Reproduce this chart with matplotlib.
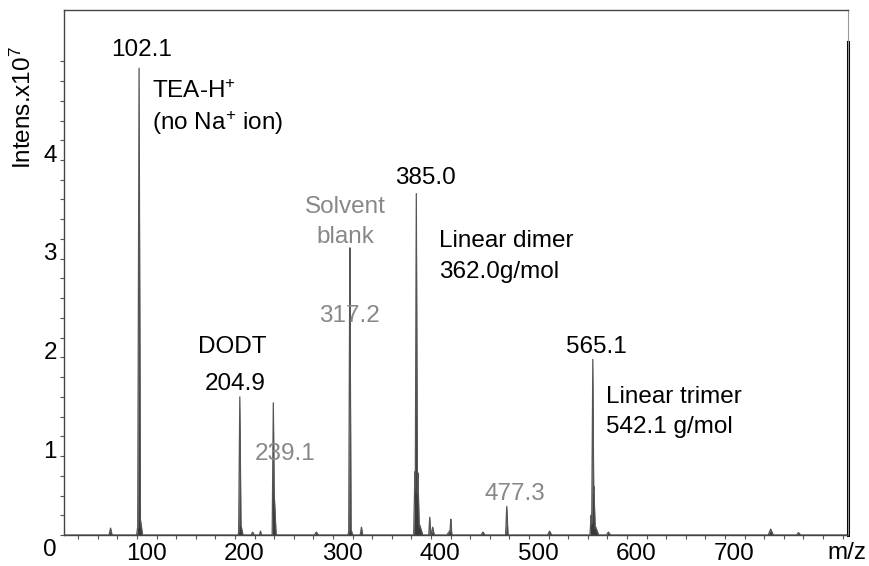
import numpy as np
import matplotlib
matplotlib.use("Agg")
import matplotlib.pyplot as plt
import matplotlib.transforms as mtransforms
from matplotlib.ticker import MultipleLocator, FixedLocator

plt.rcParams['font.family'] = ['Liberation Sans', 'DejaVu Sans']
plt.rcParams['mathtext.fontset'] = 'custom'
plt.rcParams['mathtext.rm'] = 'Liberation Sans'
plt.rcParams['mathtext.it'] = 'Liberation Sans'

# ==========================================
# Data (intensity in 1e7)
# ==========================================
peak_mz = [102.1, 102.6, 204.9, 205.6, 239.1, 239.9, 317.2, 317.6,
           385.0, 383.6, 386.6, 388.5, 398.7, 401.7, 420.2, 419.0,
           477.3, 565.1, 566.2, 563.4, 568.0,
           73.0, 218.0, 226.0, 283.0, 329.0, 453.0, 521.0, 581.0, 746.6, 775.0]
peak_height = [4.73, 0.22, 1.40, 0.12, 1.34, 0.44, 2.91, 0.08,
               3.46, 0.64, 0.63, 0.10, 0.18, 0.08, 0.16, 0.04,
               0.29, 1.78, 0.49, 0.20, 0.08,
               0.07, 0.03, 0.04, 0.03, 0.08, 0.03, 0.04, 0.03, 0.06, 0.025]
peak_halfwidth = [1.4, 3.0, 1.2, 2.5, 1.2, 2.0, 1.2, 2.5,
                  1.2, 1.3, 1.5, 3.0, 1.0, 1.5, 1.0, 3.0,
                  1.2, 1.2, 1.5, 1.2, 3.0,
                  1.5, 1.5, 1.0, 2.0, 1.2, 2.0, 2.0, 2.0, 2.5, 2.0]

# peak annotations: (text, x, y, colour, ha)
labels_black = ["102.1", "204.9", "385.0", "565.1"]
labels_black_x = [105, 200, 394, 569]
labels_black_y = [4.85, 1.47, 3.56, 1.84]

labels_gray = ["239.1", "317.2", "477.3"]
labels_gray_x = [251, 317, 486]
labels_gray_y = [0.76, 2.16, 0.35]

x_ticks = [100, 200, 300, 400, 500, 600, 700]
y_ticks = [0, 1, 2, 3, 4]

# ==========================================
# Build spectrum
# ==========================================
mz = np.arange(25.0, 826.0, 0.1)
intens = np.zeros_like(mz)
for c, h, w in zip(peak_mz, peak_height, peak_halfwidth):
    intens = np.maximum(intens, h * np.clip(1 - np.abs(mz - c) / w, 0, None))

# ==========================================
# Plot
# ==========================================
fig = plt.figure(figsize=(8.7, 5.66), dpi=100)
ax = fig.add_axes([64 / 870, 1 - 535 / 566, (848 - 64) / 870, (535 - 10) / 566])

ax.fill_between(mz, 0, intens, color='#3a3a3a', lw=0)
ax.plot(mz, intens, color='#555555', lw=0.9)

ax.set_xlim(25.5, 825.5)
ax.set_ylim(0, 5.32)

ax.xaxis.set_major_locator(FixedLocator(x_ticks))
ax.xaxis.set_minor_locator(FixedLocator(np.arange(40, 821, 20)))
ax.yaxis.set_major_locator(FixedLocator(y_ticks))
ax.yaxis.set_minor_locator(FixedLocator(np.arange(0.2, 4.81, 0.2)))
ax.set_xticklabels([str(t) for t in x_ticks])
ax.set_yticklabels([str(t) for t in y_ticks])

ax.tick_params(which='both', direction='out', length=3, width=0.8, color='#555555',
               labelsize=17.5)
ax.tick_params(axis='x', pad=3)
ax.tick_params(axis='y', pad=2)

# Bruker-style offset tick labels
dx = mtransforms.ScaledTranslation(9 / 100, 0, fig.dpi_scale_trans)
for lab in ax.get_xticklabels():
    lab.set_transform(lab.get_transform() + dx)
dy = mtransforms.ScaledTranslation(0, -13 / 100, fig.dpi_scale_trans)
for lab in ax.get_yticklabels():
    lab.set_transform(lab.get_transform() + dy)

for side in ['left', 'top', 'bottom']:
    ax.spines[side].set_color('#444444')
    ax.spines[side].set_linewidth(1.0)
ax.spines['right'].set_color('#999999')
ax.spines['right'].set_linewidth(0.8)
ax.axvline(825.5, ymin=0, ymax=(535 - 42) / 525, color='black', lw=2.2, clip_on=False)

# annotations
fs = 17.5
for t, x, y in zip(labels_black, labels_black_x, labels_black_y):
    ax.text(x, y, t, ha='center', va='baseline', fontsize=fs, color='black')
for t, x, y in zip(labels_gray, labels_gray_x, labels_gray_y):
    ax.text(x, y, t, ha='center', va='baseline', fontsize=fs, color='#888888')

ax.text(115.3, 4.43, r"TEA-H$^{+}$", ha='left', va='baseline', fontsize=fs)
ax.text(115.3, 4.10, r"(no Na$^{+}$ ion)", ha='left', va='baseline', fontsize=fs)
ax.text(197, 1.84, "DODT", ha='center', va='baseline', fontsize=fs)
ax.text(313, 3.26, "Solvent", ha='center', va='baseline', fontsize=fs, color='#888888')
ax.text(313, 2.96, "blank", ha='center', va='baseline', fontsize=fs, color='#888888')
ax.text(408, 2.92, "Linear dimer", ha='left', va='baseline', fontsize=fs)
ax.text(408, 2.60, "362.0g/mol", ha='left', va='baseline', fontsize=fs)
ax.text(578.6, 1.34, "Linear trimer", ha='left', va='baseline', fontsize=fs)
ax.text(578.6, 1.03, "542.1 g/mol", ha='left', va='baseline', fontsize=fs)

ax.text(824.5, -0.18, "m/z", ha='center', va='center', fontsize=fs, clip_on=False)
fig.text(23 / 870, 1 - 108 / 566, r"Intens.x10$^{7}$", rotation=90,
         ha='center', va='center', fontsize=fs)

fig.savefig("out.png", dpi=100)
